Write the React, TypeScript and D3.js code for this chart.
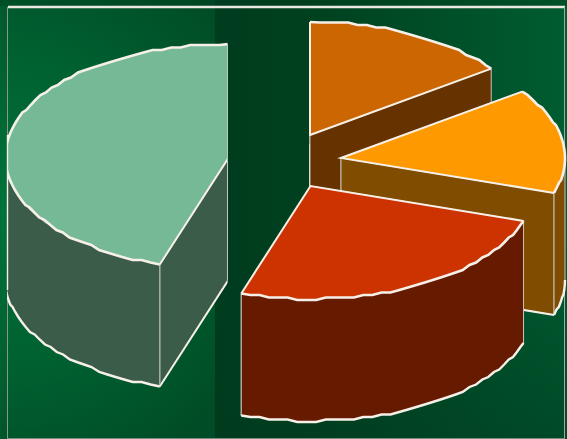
import React from "react";
import * as d3 from "d3";

const W = 567, H = 439;
const shares = [15, 15, 25, 45];
const topColors = ["#cc6600", "#ff9900", "#cc3300", "#75b997"];
const sideColors = ["#663300", "#7f4c00", "#661a00", "#3c5c4a"];
const centerX = [310, 341, 310.5, 229];
const centerY = [135, 158, 186, 157];
const RX = 224, RY = 113, DEPTH = 122, STEP = 2.5;
const RIM = "#f6f0e8", THIN = "#c4c3ba";

const pie = d3.pie<number>().sort(null).value((d) => d);
const arcs = pie(shares);
const line = d3.line<[number, number]>();

function rim(i: number, a: number, b: number, dy = 0): [number, number][] {
  const n = Math.max(2, Math.ceil(((b - a) * 180) / Math.PI / 2.5));
  return d3.range(n + 1).map((k) => {
    const t = a + ((b - a) * k) / n;
    const y = centerY[i] - RY * Math.cos(t);
    const snapped = k === 0 || k === n ? y : Math.round(y / STEP) * STEP;
    return [centerX[i] + RX * Math.sin(t), snapped + dy] as [number, number];
  });
}
function edgePoint(i: number, t: number, dy = 0): [number, number] {
  return [centerX[i] + RX * Math.sin(t), centerY[i] - RY * Math.cos(t) + dy];
}

function Slice({ i }: { i: number }) {
  const { startAngle: a, endAngle: b } = arcs[i];
  const c: [number, number] = [centerX[i], centerY[i]];
  const cl: [number, number] = [c[0], c[1] + DEPTH];
  const face = (t: number) => {
    const p = edgePoint(i, t), q = edgePoint(i, t, DEPTH);
    return (
      <g>
        <path d={line([c, p, q, cl])! + "Z"} fill={sideColors[i]} stroke={THIN} strokeWidth={1} />
        <path d={line([cl, q])!} fill="none" stroke={RIM} strokeWidth={2} />
      </g>
    );
  };
  const wa = Math.max(a, Math.PI / 2), wb = Math.min(b, (3 * Math.PI) / 2);
  const hasWall = wb > wa;
  const topRim = hasWall ? rim(i, wa, wb) : [];
  const botRim = hasWall ? rim(i, wa, wb, DEPTH) : [];
  const full = rim(i, a, b);
  return (
    <g clipPath={i === 3 ? "url(#leftClip)" : undefined}>
      {face(a)}
      {face(b)}
      {hasWall && (
        <>
          <path d={line([...topRim, ...botRim.slice().reverse()])! + "Z"} fill={sideColors[i]} stroke={THIN} strokeWidth={1} />
          <path d={line(botRim)!} fill="none" stroke={RIM} strokeWidth={2.4} />
        </>
      )}
      <path d={line([c, ...full])! + "Z"} fill={topColors[i]} />
      <path d={line(full)!} fill="none" stroke={RIM} strokeWidth={2.6} />
      <path d={line([full[0], c, full[full.length - 1]])!} fill="none" stroke={RIM} strokeWidth={2} />
    </g>
  );
}

export default function App() {
  return (
    <svg width={W} height={H} style={{ position: "fixed", left: 0, top: 0, display: "block" }}>
      <defs>
        <radialGradient id="leftBg" gradientUnits="userSpaceOnUse" cx={0} cy={210} r={290}>
          <stop offset="0" stopColor="#00733a" />
          <stop offset="0.55" stopColor="#006030" />
          <stop offset="1" stopColor="#004c26" />
        </radialGradient>
        <linearGradient id="rightBg" gradientUnits="userSpaceOnUse" x1={215} y1={0} x2={567} y2={0}>
          <stop offset="0" stopColor="#003c1e" />
          <stop offset="0.25" stopColor="#00401f" />
          <stop offset="1" stopColor="#005c32" />
        </linearGradient>
        <linearGradient id="bottomShade" x1="0" y1="0" x2="0" y2="1">
          <stop offset="0.55" stopColor="#003a1e" stopOpacity={0} />
          <stop offset="1" stopColor="#003a1e" stopOpacity={0.55} />
        </linearGradient>
        <clipPath id="leftClip">
          <rect x={7} y={0} width={220.5} height={H} />
        </clipPath>
      </defs>
      <rect x={0} y={0} width={215} height={H} fill="url(#leftBg)" />
      <rect x={215} y={0} width={W - 215} height={H} fill="url(#rightBg)" />
      <rect x={215} y={0} width={W - 215} height={H} fill="url(#bottomShade)" />
      <rect x={0} y={0} width={W} height={6} fill="#003c1e" opacity={0.35} />
      <line x1={8} x2={565} y1={7} y2={7} stroke="#ece9e2" strokeWidth={2.4} />
      <line x1={7.5} x2={7.5} y1={7} y2={H} stroke="#8f958c" strokeWidth={1} />
      <line x1={564.5} x2={564.5} y1={7} y2={H} stroke="#a4a9a0" strokeWidth={1} />
      <line x1={8} x2={565} y1={438.5} y2={438.5} stroke="#7f8a80" strokeWidth={1} />
      {arcs.map((_, i) => (
        <Slice key={i} i={i} />
      ))}
      <line x1={227.5} x2={227.5} y1={44} y2={280} stroke={THIN} strokeWidth={1} />
      <line x1={7.5} x2={7.5} y1={135} y2={290} stroke={RIM} strokeWidth={1.4} />
    </svg>
  );
}
